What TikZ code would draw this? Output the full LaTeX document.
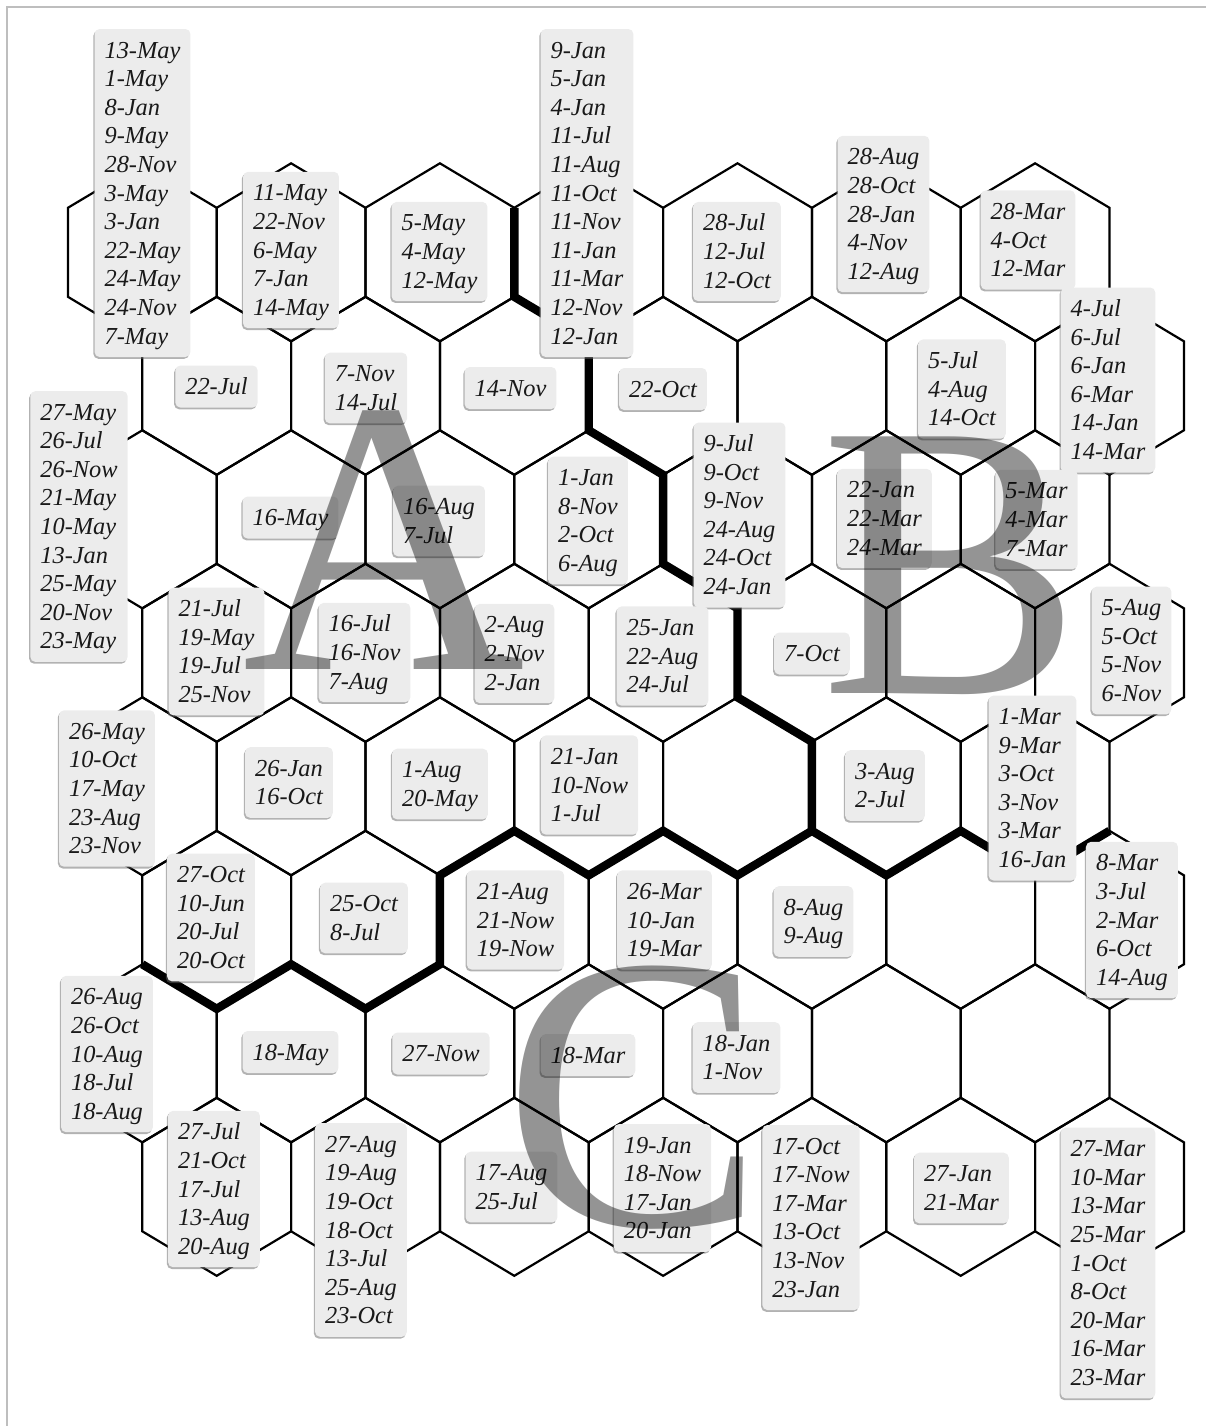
\documentclass[tikz,border=0pt]{standalone}
\usepackage{fontspec}
\setmainfont{Liberation Serif}
\usetikzlibrary{shadows}

\definecolor{framegray}{RGB}{190,190,190}
\definecolor{boxgray}{RGB}{236,236,236}

\begin{document}
\begin{tikzpicture}[x=.5pt,y=-.5pt,
 hexline/.style={line width=1.1pt},
 border/.style={line width=4.2pt},
 daybox/.style={fill=boxgray,rounded corners=2.5pt,align=left,inner xsep=5pt,inner ysep=3.5pt,
  font=\itshape\fontsize{12.2pt}{14.3pt}\selectfont,text=black!90,
  drop shadow={shadow xshift=-.6pt,shadow yshift=-.9pt,opacity=.5,fill=black!60}},
 bigletter/.style={anchor=base,inner sep=0pt,font=\fontsize{196pt}{196pt}\selectfont,text=black,text opacity=.42}]
\useasboundingbox (0,0) rectangle (1206,1426);
\draw[framegray,line width=1pt] (7,1426)--(7,7)--(1206,7);
% hexagonal map, 8 rows of 7 units
\foreach \r in {1,...,8}{
 \foreach \c in {1,...,7}{
  \pgfmathsetmacro{\hx}{142.3+148.8*(\c-1)+74.4*(1-mod(\r,2))}
  \pgfmathsetmacro{\hy}{252.3+133.5*(\r-1)}
  \draw[hexline] (\hx,\hy) ++(0,-89) -- ++(74.4,44.5) -- ++(0,89) -- ++(-74.4,44.5)
   -- ++(-74.4,-44.5) -- ++(0,-89) -- cycle;
 }
}
% cluster borders
\draw[border] (514.3,207.8)--(514.3,296.8)--(588.7,341.3)--(588.7,430.3)--(663.1,474.8)
 --(663.1,563.8)--(737.5,608.3)--(737.5,697.3)--(811.9,741.8)--(811.9,830.8);
\draw[border] (142.3,964.3)--(216.7,1008.8)--(291.1,964.3)--(365.5,1008.8)--(439.9,964.3)
 --(439.9,875.3)--(514.3,830.8)--(588.7,875.3)--(663.1,830.8)--(737.5,875.3)--(811.9,830.8)
 --(886.3,875.3)--(960.7,830.8)--(1035.1,875.3)--(1109.5,830.8);
% day labels of the units
\foreach \nm/\px/\py/\txt in {
 11/142.5/193/13-May\\1-May\\8-Jan\\9-May\\28-Nov\\3-May\\3-Jan\\22-May\\24-May\\24-Nov\\7-May,
 12/291/250/11-May\\22-Nov\\6-May\\7-Jan\\14-May,
 13/439.5/251.5/5-May\\4-May\\12-May,
 14/587/193/9-Jan\\5-Jan\\4-Jan\\11-Jul\\11-Aug\\11-Oct\\11-Nov\\11-Jan\\11-Mar\\12-Nov\\12-Jan,
 15/737/251.5/28-Jul\\12-Jul\\12-Oct,
 16/883.5/214/28-Aug\\28-Oct\\28-Jan\\4-Nov\\12-Aug,
 17/1028/240/28-Mar\\4-Oct\\12-Mar,
 21/216.5/386.5/22-Jul,
 22/366/388/7-Nov\\14-Jul,
 23/510.5/388/14-Nov,
 24/663/389/22-Oct,
 26/962/389/5-Jul\\4-Aug\\14-Oct,
 27/1108/380/4-Jul\\6-Jul\\6-Jan\\6-Mar\\14-Jan\\14-Mar,
 31/79/526.5/27-May\\26-Jul\\26-Now\\21-May\\10-May\\13-Jan\\25-May\\20-Nov\\23-May,
 32/290.5/517.5/16-May,
 33/439/521/16-Aug\\7-Jul,
 34/588/520.5/1-Jan\\8-Nov\\2-Oct\\6-Aug,
 35/739.5/515/9-Jul\\9-Oct\\9-Nov\\24-Aug\\24-Oct\\24-Jan,
 36/884.5/518.5/22-Jan\\22-Mar\\24-Mar,
 37/1036.5/519.5/5-Mar\\4-Mar\\7-Mar,
 41/216.5/651.5/21-Jul\\19-May\\19-Jul\\25-Nov,
 42/364.5/652.5/16-Jul\\16-Nov\\7-Aug,
 43/514.5/653.5/2-Aug\\2-Nov\\2-Jan,
 44/662.5/656/25-Jan\\22-Aug\\24-Jul,
 45/812/653.5/7-Oct,
 47/1131.5/650.5/5-Aug\\5-Oct\\5-Nov\\6-Nov,
 51/107/788.5/26-May\\10-Oct\\17-May\\23-Aug\\23-Nov,
 52/289/782.5/26-Jan\\16-Oct,
 53/440/784/1-Aug\\20-May,
 54/589.5/785/21-Jan\\10-Now\\1-Jul,
 56/885/785.5/3-Aug\\2-Jul,
 57/1032.5/788/1-Mar\\9-Mar\\3-Oct\\3-Nov\\3-Mar\\16-Jan,
 61/211/917.5/27-Oct\\10-Jun\\20-Jul\\20-Oct,
 62/364/918/25-Oct\\8-Jul,
 63/515.5/920/21-Aug\\21-Now\\19-Now,
 64/664.5/920/26-Mar\\10-Jan\\19-Mar,
 65/813.5/921.5/8-Aug\\9-Aug,
 67/1132/920/8-Mar\\3-Jul\\2-Mar\\6-Oct\\14-Aug,
 71/107/1054/26-Aug\\26-Oct\\10-Aug\\18-Jul\\18-Aug,
 72/290.5/1052/18-May,
 73/441/1053.5/27-Now,
 74/588/1055/18-Mar,
 75/736.5/1057.5/18-Jan\\1-Nov,
 81/214/1189/27-Jul\\21-Oct\\17-Jul\\13-Aug\\20-Aug,
 82/361/1230/27-Aug\\19-Aug\\19-Oct\\18-Oct\\13-Jul\\25-Aug\\23-Oct,
 83/511.5/1187/17-Aug\\25-Jul,
 84/662.5/1188/19-Jan\\18-Now\\17-Jan\\20-Jan,
 85/811/1217.5/17-Oct\\17-Now\\17-Mar\\13-Oct\\13-Nov\\23-Jan,
 86/961.5/1188/27-Jan\\21-Mar,
 87/1108/1263/27-Mar\\10-Mar\\13-Mar\\25-Mar\\1-Oct\\8-Oct\\20-Mar\\16-Mar\\23-Mar}{
 \node[daybox] (d\nm) at (\px,\py) {\rule{0pt}{11pt}\txt\rule[-3pt]{0pt}{3pt}};
}
% cluster letters
\node[bigletter] (clA) at (384,669) {A};
\node[bigletter] (clB) at (951,693) {B};
\node[bigletter] (clC) at (634,1225) {C};
\end{tikzpicture}
\end{document}
